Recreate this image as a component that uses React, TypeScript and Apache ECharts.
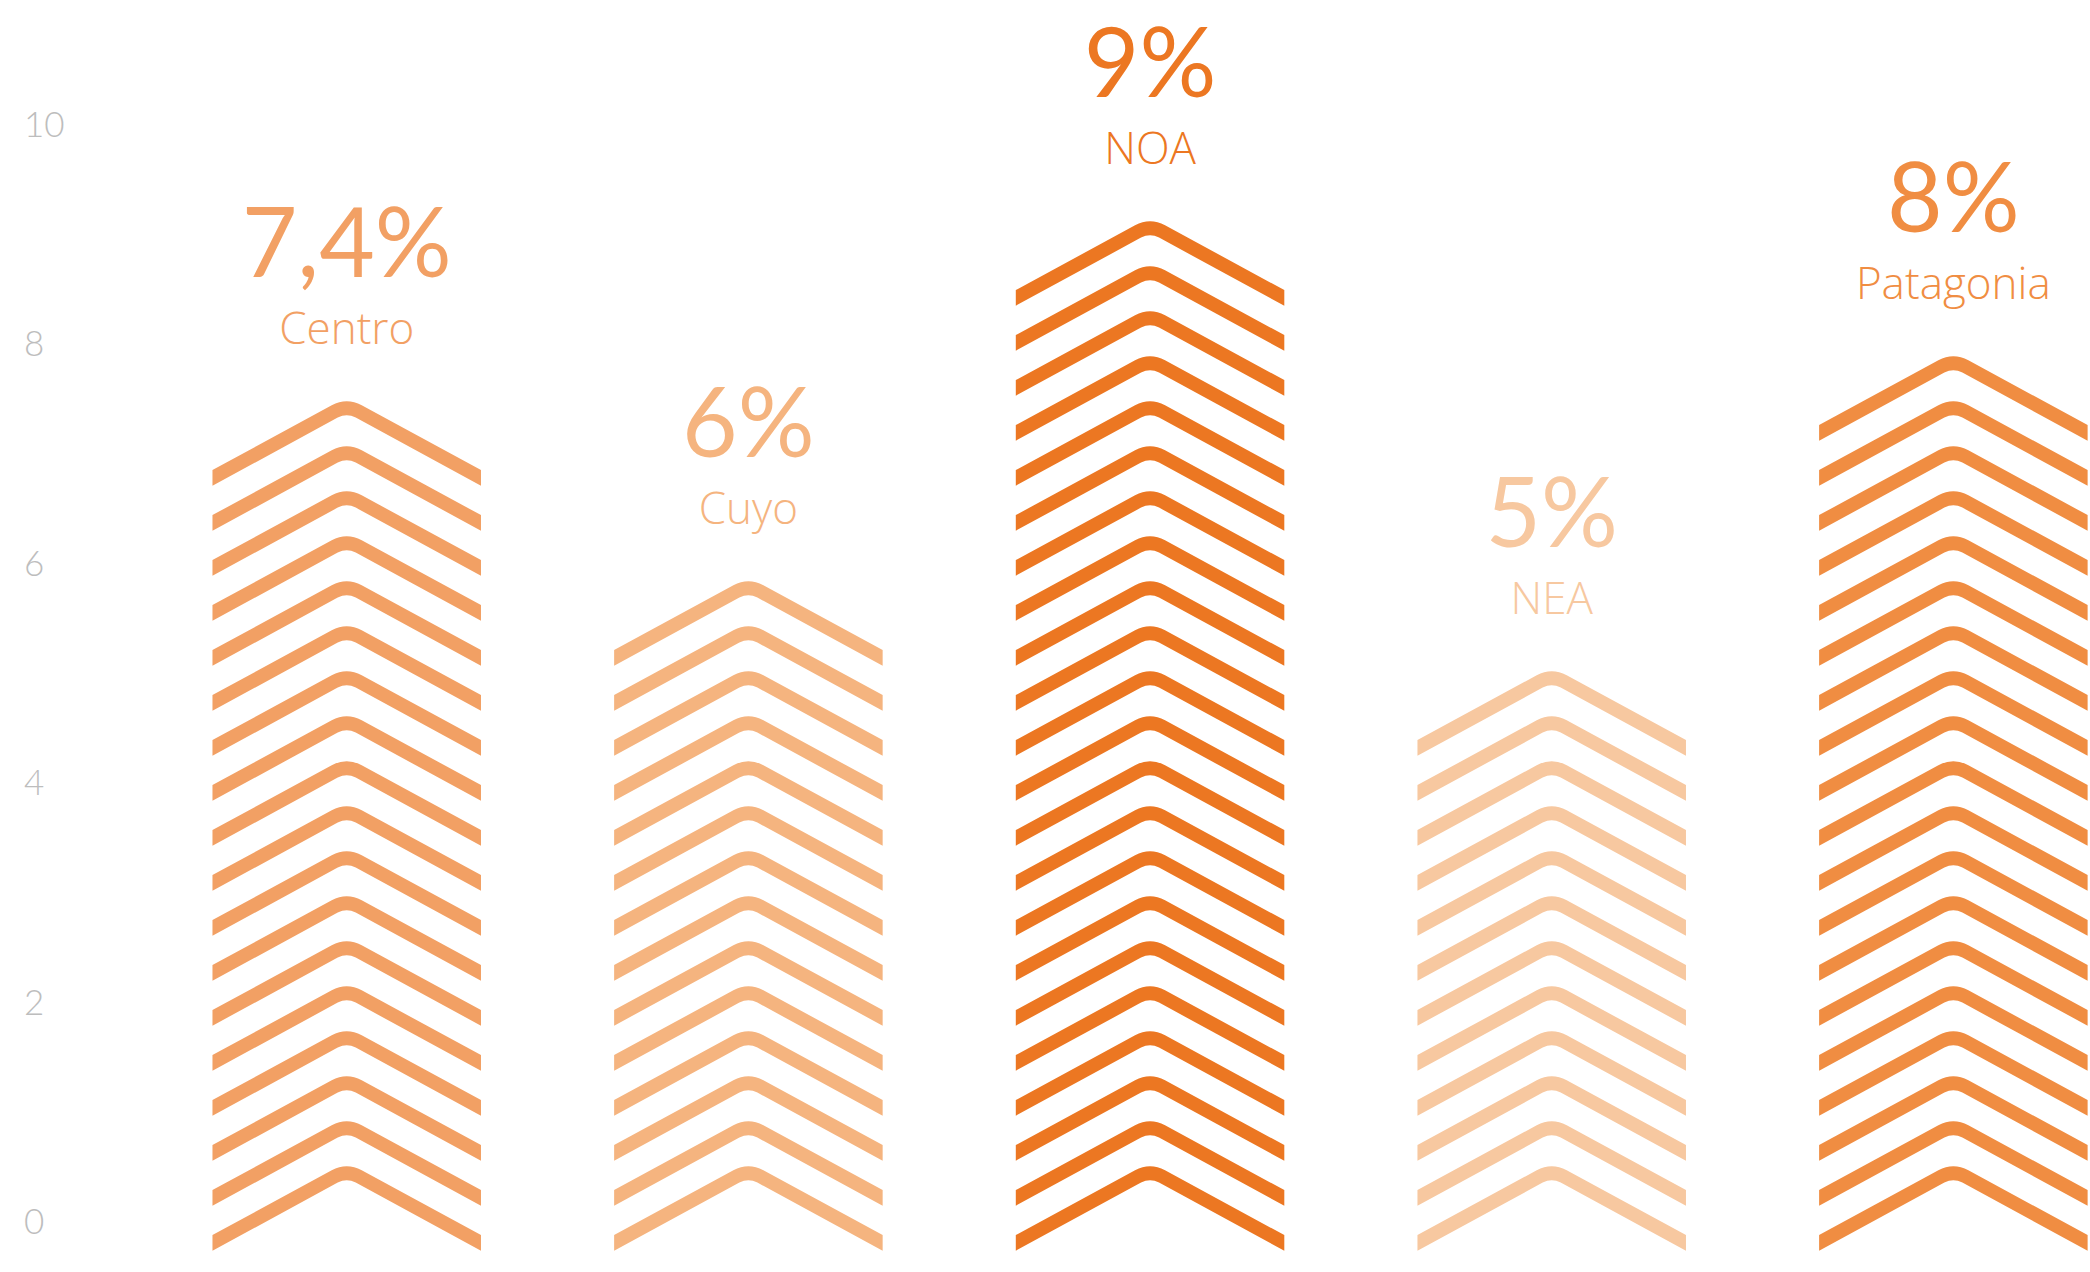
import React, { useEffect, useRef } from 'react';
import * as echarts from 'echarts';

// ---- data ----
const regions = ['Centro', 'Cuyo', 'NOA', 'NEA', 'Patagonia'];
const shares = [7.4, 6, 9, 5, 8];
const regionColors = ['#F2A064', '#F5B47F', '#EC7722', '#F7C8A0', '#F08D42'];
const yMin = 0;
const yMax = 10;
const yStep = 2;

// ---- chevron styling (pixels) ----
const STEP = 45; // vertical distance between stacked chevrons
const THICK = 15.6; // vertical stroke thickness
const SLOPE = 0.5436; // rise/run of chevron arms
const CHEV_H = 86; // chevron box height
const BASE_DROP = 30.4; // stack starts this far below the zero line
const FONT = 'Lato, "Open Sans", "Noto Sans", sans-serif';
const NAME_FONT = '"Open Sans", Lato, "Noto Sans", sans-serif';

function fmtPct(v: number): string {
  return String(v).replace('.', ',') + '%';
}

function chevron(cx: number, yb: number, half: number): string {
  const a = 15;
  const b = 9;
  const ot = yb - THICK;
  const oApex = ot - SLOPE * half;
  const oNear = ot - SLOPE * (half - a);
  const iApex = yb - SLOPE * half;
  const iNear = yb - SLOPE * (half - b);
  return (
    `M${cx - half},${ot}` +
    `L${cx - a},${oNear}` +
    `Q${cx},${oApex} ${cx + a},${oNear}` +
    `L${cx + half},${ot}` +
    `L${cx + half},${yb}` +
    `L${cx + b},${iNear}` +
    `Q${cx},${iApex} ${cx - b},${iNear}` +
    `L${cx - half},${yb}Z`
  );
}

export default function App() {
  const ref = useRef<HTMLDivElement>(null);

  useEffect(() => {
    if (!ref.current) return;
    const chart = echarts.init(ref.current, null, { renderer: 'svg' });

    const renderItem = (params: any, api: any) => {
      const idx = api.value(0);
      const val = api.value(1);
      const p0 = api.coord([idx, 0]);
      const pv = api.coord([idx, val]);
      const cx = p0[0];
      const y0 = p0[1];
      const band = api.size([1, 0])[0];
      const half = (band * 0.6685) / 2;
      const barLen = y0 - pv[1];
      const n = Math.max(1, Math.ceil((barLen - 35) / STEP));
      const yb0 = y0 + BASE_DROP;
      let d = '';
      for (let k = 0; k < n; k++) {
        d += chevron(cx, yb0 - k * STEP, half);
      }
      const topApex = yb0 - (n - 1) * STEP - CHEV_H + 1;
      const color = regionColors[params.dataIndex];
      return {
        type: 'group',
        children: [
          { type: 'path', shape: { pathData: d }, style: { fill: color } },
          {
            type: 'text',
            x: cx,
            y: topApex - 74,
            style: {
              text: regions[params.dataIndex],
              fill: color,
              fontSize: 44,
              fontFamily: NAME_FONT,
              fontWeight: 300,
              align: 'center',
              verticalAlign: 'middle',
            },
          },
          {
            type: 'text',
            x: cx,
            y: topApex - 161.5,
            style: {
              text: fmtPct(shares[params.dataIndex]),
              fill: color,
              fontSize: 96,
              fontFamily: FONT,
              fontWeight: 400,
              align: 'center',
              verticalAlign: 'middle',
            },
          },
        ],
      };
    };

    chart.setOption({
      animation: false,
      backgroundColor: '#ffffff',
      grid: {
        left: 145.9,
        right: -64.2,
        top: 122.7,
        bottom: 51.7,
        outerBoundsMode: 'none',
        containLabel: false,
      },
      xAxis: {
        type: 'category',
        data: regions,
        show: false,
        boundaryGap: true,
      },
      yAxis: {
        type: 'value',
        min: yMin,
        max: yMax,
        interval: yStep,
        axisLine: { show: false },
        axisTick: { show: false },
        splitLine: { show: false },
        axisLabel: {
          align: 'left',
          margin: 122,
          color: '#BDBDBD',
          fontSize: 35,
          fontFamily: FONT,
          fontWeight: 300,
        },
      },
      series: [
        {
          type: 'custom',
          renderItem,
          clip: false,
          encode: { x: 0, y: 1 },
          data: shares.map((v, i) => [i, v]),
        },
      ],
    });

    return () => chart.dispose();
  }, []);

  return (
    <div
      ref={ref}
      style={{ position: 'absolute', left: 0, top: 0, width: 2090, height: 1272, background: '#fff' }}
    />
  );
}
